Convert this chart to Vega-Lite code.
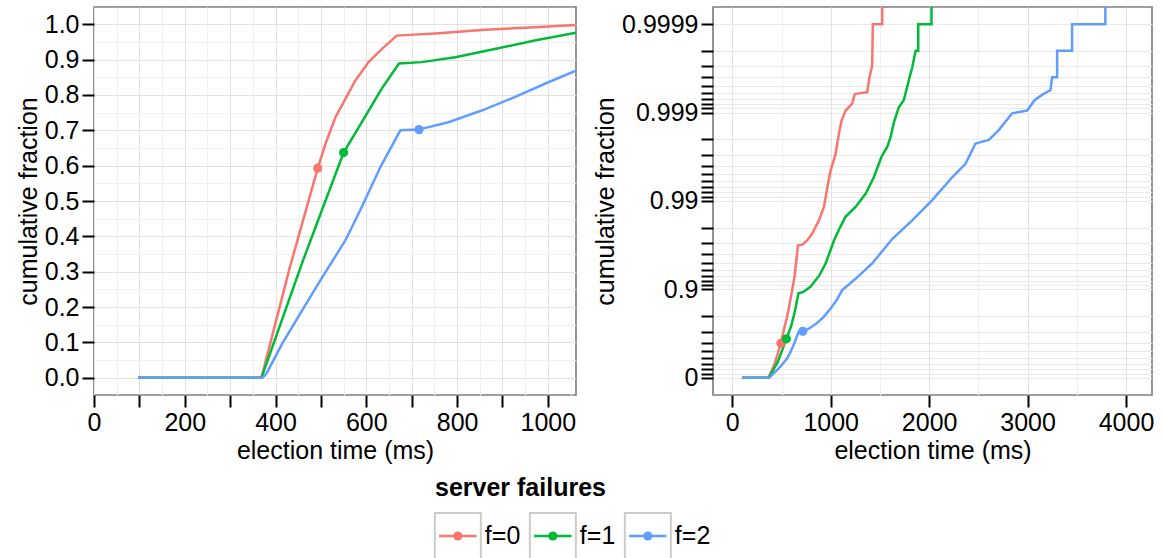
{
  "$schema": "https://vega.github.io/schema/vega-lite/v6.json",
  "padding": {"left": 15, "top": 6, "right": 6, "bottom": 0},
  "background": "white",
  "config": {
    "font": "Liberation Sans",
    "view": {"stroke": "#808080", "strokeWidth": 1.7},
    "axis": {
      "domain": false,
      "tickColor": "#000000",
      "tickWidth": 2,
      "tickSize": 12,
      "labelColor": "#000000",
      "labelFontSize": 25,
      "titleFontSize": 25,
      "titleFontWeight": "normal",
      "titleColor": "#000000",
      "labelPadding": 3,
      "titlePadding": 3,
      "gridWidth": 1,
      "labelOverlap": false,
      "labelFlush": false
    }
  },
  "datasets": {
    "left": [
      {"f": "f=0", "t": 97, "p": 0}, {"f": "f=0", "t": 369, "p": 0}, {"f": "f=0", "t": 431, "p": 0.31}, {"f": "f=0", "t": 493, "p": 0.593}, {"f": "f=0", "t": 510, "p": 0.662}, {"f": "f=0", "t": 532, "p": 0.737}, {"f": "f=0", "t": 554, "p": 0.789}, {"f": "f=0", "t": 576, "p": 0.841}, {"f": "f=0", "t": 605, "p": 0.893}, {"f": "f=0", "t": 634, "p": 0.930}, {"f": "f=0", "t": 667, "p": 0.968}, {"f": "f=0", "t": 760, "p": 0.975}, {"f": "f=0", "t": 854, "p": 0.984}, {"f": "f=0", "t": 960, "p": 0.991}, {"f": "f=0", "t": 1062, "p": 0.998}, {"f": "f=0", "t": 1100, "p": 0.998},
      {"f": "f=1", "t": 97, "p": 0}, {"f": "f=1", "t": 369, "p": 0}, {"f": "f=1", "t": 460, "p": 0.33}, {"f": "f=1", "t": 550, "p": 0.637}, {"f": "f=1", "t": 598, "p": 0.740}, {"f": "f=1", "t": 634, "p": 0.818}, {"f": "f=1", "t": 672, "p": 0.889}, {"f": "f=1", "t": 722, "p": 0.893}, {"f": "f=1", "t": 796, "p": 0.907}, {"f": "f=1", "t": 883, "p": 0.930}, {"f": "f=1", "t": 971, "p": 0.954}, {"f": "f=1", "t": 1062, "p": 0.976}, {"f": "f=1", "t": 1100, "p": 0.982},
      {"f": "f=2", "t": 97, "p": 0}, {"f": "f=2", "t": 371, "p": 0}, {"f": "f=2", "t": 380, "p": 0.012}, {"f": "f=2", "t": 415, "p": 0.097}, {"f": "f=2", "t": 459, "p": 0.191}, {"f": "f=2", "t": 499, "p": 0.276}, {"f": "f=2", "t": 554, "p": 0.389}, {"f": "f=2", "t": 590, "p": 0.483}, {"f": "f=2", "t": 631, "p": 0.596}, {"f": "f=2", "t": 675, "p": 0.700}, {"f": "f=2", "t": 715, "p": 0.702}, {"f": "f=2", "t": 781, "p": 0.723}, {"f": "f=2", "t": 854, "p": 0.756}, {"f": "f=2", "t": 927, "p": 0.794}, {"f": "f=2", "t": 1001, "p": 0.836}, {"f": "f=2", "t": 1062, "p": 0.869}, {"f": "f=2", "t": 1100, "p": 0.885}
    ],
    "right": [
      {"f": "f=0", "t": 101, "tail": 1}, {"f": "f=0", "t": 369, "tail": 1}, {"f": "f=0", "t": 431, "tail": 0.69}, {"f": "f=0", "t": 493, "tail": 0.407}, {"f": "f=0", "t": 510, "tail": 0.338}, {"f": "f=0", "t": 532, "tail": 0.263}, {"f": "f=0", "t": 554, "tail": 0.211}, {"f": "f=0", "t": 576, "tail": 0.159}, {"f": "f=0", "t": 605, "tail": 0.107}, {"f": "f=0", "t": 634, "tail": 0.070}, {"f": "f=0", "t": 667, "tail": 0.032}, {"f": "f=0", "t": 711, "tail": 0.0312}, {"f": "f=0", "t": 760, "tail": 0.028}, {"f": "f=0", "t": 812, "tail": 0.0234}, {"f": "f=0", "t": 880, "tail": 0.0166}, {"f": "f=0", "t": 931, "tail": 0.0117}, {"f": "f=0", "t": 965, "tail": 0.00708}, {"f": "f=0", "t": 998, "tail": 0.00457}, {"f": "f=0", "t": 1049, "tail": 0.00295}, {"f": "f=0", "t": 1083, "tail": 0.00174}, {"f": "f=0", "t": 1110, "tail": 0.00123}, {"f": "f=0", "t": 1150, "tail": 0.000955}, {"f": "f=0", "t": 1218, "tail": 0.000794}, {"f": "f=0", "t": 1245, "tail": 0.000617}, {"f": "f=0", "t": 1371, "tail": 0.000589}, {"f": "f=0", "t": 1394, "tail": 0.000398}, {"f": "f=0", "t": 1421, "tail": 0.000295}, {"f": "f=0", "t": 1428, "tail": 0.0001}, {"f": "f=0", "t": 1523, "tail": 0.0001}, {"f": "f=0", "t": 1523, "tail": 0.00001},
      {"f": "f=1", "t": 101, "tail": 1}, {"f": "f=1", "t": 369, "tail": 1}, {"f": "f=1", "t": 460, "tail": 0.67}, {"f": "f=1", "t": 550, "tail": 0.363}, {"f": "f=1", "t": 598, "tail": 0.260}, {"f": "f=1", "t": 634, "tail": 0.182}, {"f": "f=1", "t": 672, "tail": 0.111}, {"f": "f=1", "t": 722, "tail": 0.107}, {"f": "f=1", "t": 796, "tail": 0.093}, {"f": "f=1", "t": 846, "tail": 0.079}, {"f": "f=1", "t": 883, "tail": 0.070}, {"f": "f=1", "t": 948, "tail": 0.051}, {"f": "f=1", "t": 990, "tail": 0.038}, {"f": "f=1", "t": 1032, "tail": 0.0282}, {"f": "f=1", "t": 1090, "tail": 0.0204}, {"f": "f=1", "t": 1150, "tail": 0.0151}, {"f": "f=1", "t": 1252, "tail": 0.0117}, {"f": "f=1", "t": 1354, "tail": 0.0083}, {"f": "f=1", "t": 1438, "tail": 0.0054}, {"f": "f=1", "t": 1516, "tail": 0.00316}, {"f": "f=1", "t": 1574, "tail": 0.00245}, {"f": "f=1", "t": 1608, "tail": 0.0019}, {"f": "f=1", "t": 1642, "tail": 0.00129}, {"f": "f=1", "t": 1692, "tail": 0.00087}, {"f": "f=1", "t": 1743, "tail": 0.00072}, {"f": "f=1", "t": 1777, "tail": 0.00051}, {"f": "f=1", "t": 1801, "tail": 0.0004}, {"f": "f=1", "t": 1828, "tail": 0.00031}, {"f": "f=1", "t": 1862, "tail": 0.0002}, {"f": "f=1", "t": 1889, "tail": 0.0002}, {"f": "f=1", "t": 1889, "tail": 0.0001}, {"f": "f=1", "t": 2024, "tail": 0.0001}, {"f": "f=1", "t": 2024, "tail": 0.00001},
      {"f": "f=2", "t": 101, "tail": 1}, {"f": "f=2", "t": 371, "tail": 1}, {"f": "f=2", "t": 380, "tail": 0.988}, {"f": "f=2", "t": 415, "tail": 0.903}, {"f": "f=2", "t": 459, "tail": 0.809}, {"f": "f=2", "t": 499, "tail": 0.724}, {"f": "f=2", "t": 554, "tail": 0.611}, {"f": "f=2", "t": 590, "tail": 0.517}, {"f": "f=2", "t": 631, "tail": 0.404}, {"f": "f=2", "t": 675, "tail": 0.300}, {"f": "f=2", "t": 715, "tail": 0.298}, {"f": "f=2", "t": 781, "tail": 0.277}, {"f": "f=2", "t": 854, "tail": 0.244}, {"f": "f=2", "t": 927, "tail": 0.206}, {"f": "f=2", "t": 1001, "tail": 0.164}, {"f": "f=2", "t": 1062, "tail": 0.131}, {"f": "f=2", "t": 1117, "tail": 0.102}, {"f": "f=2", "t": 1252, "tail": 0.076}, {"f": "f=2", "t": 1421, "tail": 0.051}, {"f": "f=2", "t": 1624, "tail": 0.027}, {"f": "f=2", "t": 1828, "tail": 0.0166}, {"f": "f=2", "t": 2031, "tail": 0.0098}, {"f": "f=2", "t": 2234, "tail": 0.0054}, {"f": "f=2", "t": 2369, "tail": 0.0038}, {"f": "f=2", "t": 2471, "tail": 0.00224}, {"f": "f=2", "t": 2606, "tail": 0.00204}, {"f": "f=2", "t": 2707, "tail": 0.00158}, {"f": "f=2", "t": 2843, "tail": 0.00102}, {"f": "f=2", "t": 2995, "tail": 0.00095}, {"f": "f=2", "t": 3073, "tail": 0.00072}, {"f": "f=2", "t": 3158, "tail": 0.00062}, {"f": "f=2", "t": 3232, "tail": 0.00056}, {"f": "f=2", "t": 3249, "tail": 0.0004}, {"f": "f=2", "t": 3300, "tail": 0.0004}, {"f": "f=2", "t": 3300, "tail": 0.0002}, {"f": "f=2", "t": 3452, "tail": 0.0002}, {"f": "f=2", "t": 3452, "tail": 0.0001}, {"f": "f=2", "t": 3790, "tail": 0.0001}, {"f": "f=2", "t": 3790, "tail": 0.00001}
    ],
    "dots": [
      {"f": "f=0", "t": 493, "p": 0.593, "tail": 0.407},
      {"f": "f=1", "t": 550, "p": 0.637, "tail": 0.363},
      {"f": "f=2", "t": 716, "p": 0.702, "tail": 0.298}
    ],
    "keys": [{"f": "f=0"}, {"f": "f=1"}, {"f": "f=2"}]
  },
  "spacing": 12,
  "vconcat": [
    {
      "spacing": 15,
      "hconcat": [
        {
          "width": 482,
          "height": 388,
          "encoding": {
            "x": {"field": "t", "type": "quantitative", "title": "election time (ms)",
              "scale": {"domain": [0, 1062], "nice": false, "zero": false},
              "axis": {
                "values": [0, 50, 100, 150, 200, 250, 300, 350, 400, 450, 500, 550, 600, 650, 700, 750, 800, 850, 900, 950, 1000, 1050],
                "format": "d",
                "labelOverlap": false,
                "labelExpr": "datum.value % 200 === 0 ? datum.label : ''",
                "tickOpacity": {"condition": {"test": "datum.value % 100 !== 0", "value": 0}, "value": 1},
                "gridColor": {"condition": {"test": "datum.value % 100 === 0", "value": "#e2e2e2"}, "value": "#f1f1f1"}
              }
            },
            "y": {"field": "p", "type": "quantitative", "title": "cumulative fraction",
              "scale": {"domain": [-0.049, 1.049], "nice": false, "zero": false},
              "axis": {
                "values": [0, 0.05, 0.1, 0.15, 0.2, 0.25, 0.3, 0.35, 0.4, 0.45, 0.5, 0.55, 0.6, 0.65, 0.7, 0.75, 0.8, 0.85, 0.9, 0.95, 1],
                "format": ".1f",
                "labelOverlap": false,
                "labelExpr": "round(datum.value * 20) % 2 === 0 ? datum.label : ''",
                "tickOpacity": {"condition": {"test": "round(datum.value * 20) % 2 !== 0", "value": 0}, "value": 1},
                "gridColor": {"condition": {"test": "round(datum.value * 20) % 2 === 0", "value": "#e2e2e2"}, "value": "#f1f1f1"}
              }
            },
            "color": {"field": "f", "type": "nominal", "legend": null,
              "scale": {"domain": ["f=0", "f=1", "f=2"], "range": ["#F8766D", "#00BA38", "#619CFF"]}}
          },
          "layer": [
            {
              "data": {"name": "left"},
              "mark": {"type": "line", "strokeWidth": 2.5, "clip": true},
              "encoding": {"order": {"value": null}}
            },
            {
              "data": {"name": "dots"},
              "mark": {"type": "point", "filled": true, "size": 85, "opacity": 1, "clip": true}
            }
          ]
        },
        {
          "width": 439,
          "height": 388,
          "encoding": {
            "x": {"field": "t", "type": "quantitative", "title": "election time (ms)",
              "scale": {"domain": [-196, 4264], "nice": false, "zero": false},
              "axis": {
                "values": [0, 500, 1000, 1500, 2000, 2500, 3000, 3500, 4000],
                "format": "d",
                "labelOverlap": false,
                "labelExpr": "datum.value % 1000 === 0 ? datum.label : ''",
                "tickOpacity": {"condition": {"test": "datum.value % 1000 !== 0", "value": 0}, "value": 1},
                "gridColor": {"condition": {"test": "datum.value % 1000 === 0", "value": "#e2e2e2"}, "value": "#f1f1f1"}
              }
            },
            "y": {"field": "tail", "type": "quantitative", "title": "cumulative fraction",
              "scale": {"type": "log", "domain": [0.000064, 1.567], "reverse": true, "nice": false, "zero": false},
              "axis": {
                "values": [1, 0.9, 0.8, 0.7, 0.6, 0.5, 0.4, 0.3, 0.2, 0.1, 0.09, 0.08, 0.07, 0.06, 0.05, 0.04, 0.03, 0.02, 0.01, 0.009, 0.008, 0.007, 0.006, 0.005, 0.004, 0.003, 0.002, 0.001, 0.0009, 0.0008, 0.0007, 0.0006, 0.0005, 0.0004, 0.0003, 0.0002, 0.0001],
                "labelOverlap": false,
                "labelExpr": "datum.value === 1 ? '0' : datum.value === 0.1 ? '0.9' : datum.value === 0.01 ? '0.99' : datum.value === 0.001 ? '0.999' : datum.value === 0.0001 ? '0.9999' : ''",
                "gridColor": "#e9e9e9"
              }
            },
            "color": {"field": "f", "type": "nominal", "legend": null,
              "scale": {"domain": ["f=0", "f=1", "f=2"], "range": ["#F8766D", "#00BA38", "#619CFF"]}}
          },
          "layer": [
            {
              "data": {"name": "right"},
              "mark": {"type": "line", "strokeWidth": 2.5, "clip": true},
              "encoding": {"order": {"value": null}}
            },
            {
              "data": {"name": "dots"},
              "mark": {"type": "point", "filled": true, "size": 85, "opacity": 1, "clip": true}
            }
          ]
        }
      ]
    },
    {
      "data": {"name": "keys"},
      "width": 632.7,
      "height": 46,
      "view": {"stroke": null},
      "title": {"text": "server failures", "anchor": "start", "fontSize": 25, "fontWeight": "bold", "color": "#000000", "offset": 8, "dx": 341},
      "encoding": {
        "x": {"field": "f", "type": "nominal", "axis": null, "scale": {"type": "point", "padding": 0.83, "domain": [" a", " b", " c", "f=0", "f=1", "f=2"]}}
      },
      "layer": [
        {"mark": {"type": "point", "shape": "square", "size": 2116, "filled": false, "color": "#cccccc", "strokeWidth": 2, "opacity": 1}},
        {"mark": {"type": "point", "shape": "stroke", "size": 1400, "filled": false, "strokeWidth": 2.5, "opacity": 1},
          "encoding": {"color": {"field": "f", "type": "nominal", "legend": null, "scale": {"domain": ["f=0", "f=1", "f=2"], "range": ["#F8766D", "#00BA38", "#619CFF"]}}}},
        {"mark": {"type": "point", "filled": true, "size": 85, "opacity": 1},
          "encoding": {"color": {"field": "f", "type": "nominal", "legend": null}}},
        {"mark": {"type": "text", "align": "left", "baseline": "middle", "dx": 27, "fontSize": 25, "color": "#000000"},
          "encoding": {"text": {"field": "f", "type": "nominal"}}}
      ]
    }
  ]
}
